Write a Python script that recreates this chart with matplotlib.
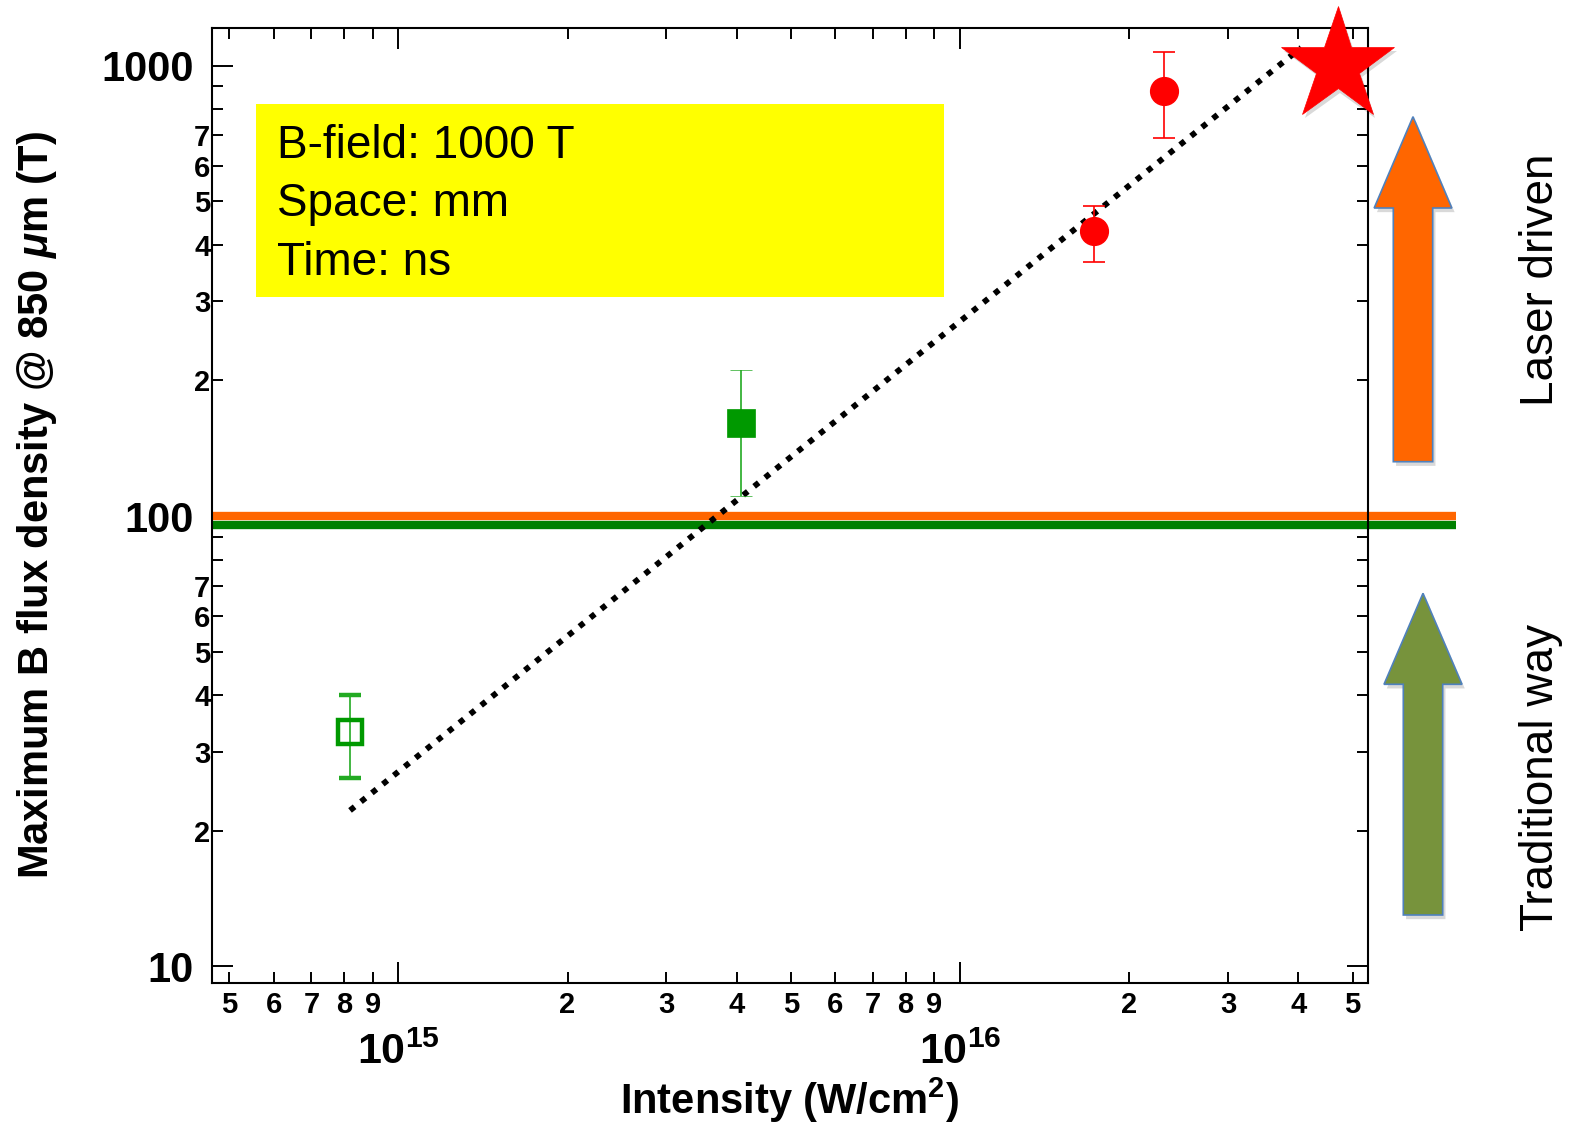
import numpy as np
import matplotlib
matplotlib.use('Agg')
import matplotlib.pyplot as plt
import matplotlib.patches as mpatches
import matplotlib.patheffects as pe
from matplotlib import font_manager

# pick fonts (Helvetica-like)
names = {f.name for f in font_manager.fontManager.ttflist}
sans = 'Liberation Sans' if 'Liberation Sans' in names else 'DejaVu Sans'
narrow = 'Liberation Sans Narrow' if 'Liberation Sans Narrow' in names else sans

plt.rcParams['font.family'] = [sans, 'DejaVu Sans']
plt.rcParams['mathtext.fontset'] = 'custom'
plt.rcParams['mathtext.rm'] = narrow + ':bold'
plt.rcParams['mathtext.it'] = sans + ':bold:italic'
plt.rcParams['mathtext.bf'] = narrow + ':bold'

# data
open_x = [8.2e14]
open_y = [33.2]
open_lo = [26.2]
open_hi = [40.1]

fill_x = [4.08e15]
fill_y = [161]
fill_lo = [111]
fill_hi = [211]

red_x = [1.73e16, 2.31e16]
red_y = [430, 880]
red_lo = [367, 690]
red_hi = [487, 1074]

star_x = [4.7e16]
star_y = [1000]

fit_x = [8.2e14, 4.05e16]
fit_y = [22.2, 1096]

hline_x = [4.65e14, 7.65e16]
laser_level = 100
trad_level = 95.7

xlim = (4.65e14, 5.33e16)
ylim = (9.2, 1212)

x_major = [1e15, 1e16]
x_major_labels = ['$10^{15}$', '$10^{16}$']
x_minor = [5e14, 6e14, 7e14, 8e14, 9e14,
           2e15, 3e15, 4e15, 5e15, 6e15, 7e15, 8e15, 9e15,
           2e16, 3e16, 4e16, 5e16]
x_minor_labels = ['5', '6', '7', '8', '9',
                  '2', '3', '4', '5', '6', '7', '8', '9',
                  '2', '3', '4', '5']
y_major = [10, 100, 1000]
y_major_labels = ['10', '100', '1000']
y_minor = [20, 30, 40, 50, 60, 70, 80, 90,
           200, 300, 400, 500, 600, 700, 800, 900]
y_minor_labels = ['2', '3', '4', '5', '6', '7', '', '',
                  '2', '3', '4', '5', '6', '7', '', '']

box_lines = ['B-field: 1000 T', 'Space: mm', 'Time: ns']

fig = plt.figure(figsize=(15.75, 11.23), dpi=100)
ax = fig.add_axes([0.1344, 0.1249, 0.7343, 0.8502])
ax.set_xscale('log')
ax.set_yscale('log')

# threshold lines
ax.plot(hline_x, [laser_level] * 2, color='#FF6600', lw=6, solid_capstyle='butt', clip_on=False, zorder=2)
ax.plot(hline_x, [trad_level] * 2, color='#008000', lw=6, solid_capstyle='butt', clip_on=False, zorder=2)

# scaling line
ax.plot(fit_x, fit_y, color='black', lw=4.2, linestyle=(0, (1, 1.4)), zorder=3)

# measurements
ax.errorbar(open_x, open_y, yerr=[np.subtract(open_y, open_lo), np.subtract(open_hi, open_y)],
            fmt='s', ms=17, mfc='none', mec='#009900', mew=3.2, ecolor='#22AA22',
            elinewidth=1.2, capsize=8, capthick=1.2, zorder=4)
ax.errorbar(fill_x, fill_y, yerr=[np.subtract(fill_y, fill_lo), np.subtract(fill_hi, fill_y)],
            fmt='s', ms=20, mfc='#009900', mec='#009900', mew=0.5, ecolor='#22AA22',
            elinewidth=1.2, capsize=8, capthick=1.2, zorder=4)
ax.errorbar(red_x, red_y, yerr=[np.subtract(red_y, red_lo), np.subtract(red_hi, red_y)],
            fmt='o', ms=20, mfc='#FF0000', mec='#FF0000', ecolor='#FF0000',
            elinewidth=1.2, capsize=8, capthick=1.2, zorder=4)

soft = [pe.SimplePatchShadow(offset=(2, -3), shadow_rgbFace='k', alpha=0.15), pe.Normal()]
ax.plot(star_x, star_y, marker='*', ms=86, color='#FF0000', mec='#FF0000', mew=0.5,
        linestyle='none', clip_on=False, zorder=10, path_effects=soft)

ax.set_xlim(*xlim)
ax.set_ylim(*ylim)

# ticks
ax.set_xticks(x_major, x_major_labels)
ax.set_xticks(x_minor, x_minor_labels, minor=True)
ax.set_yticks(y_major, y_major_labels)
ax.set_yticks(y_minor, y_minor_labels, minor=True)
ax.tick_params(which='both', direction='in', top=True, right=True, width=1.4)
ax.tick_params(which='major', length=15)
ax.tick_params(which='minor', length=8)
ax.tick_params(axis='x', which='major', labelsize=31, pad=36)
ax.tick_params(axis='x', which='minor', labelsize=21, pad=6)
ax.tick_params(axis='y', which='major', labelsize=30, pad=13)
ax.tick_params(axis='y', which='minor', labelsize=21, pad=1)
for lab in ax.get_xticklabels(minor=True):
    lab.set_family([narrow, sans])
    lab.set_weight('bold')
for lab in ax.get_yticklabels() + ax.get_yticklabels(minor=True):
    lab.set_weight('bold')
for sp in ax.spines.values():
    sp.set_linewidth(1.5)

ax.set_xlabel('Intensity (W/cm$^{2}$)', fontsize=30, fontweight='bold', labelpad=2)
ax.set_ylabel(r'Maximum B flux density @ 850 $\mu$m (T)', fontsize=30, fontweight='bold', labelpad=30)

# yellow info box
ax.add_patch(mpatches.Rectangle((0.0383, 0.7182), 0.5952, 0.2022, transform=ax.transAxes,
                                facecolor='#FFFF00', edgecolor='none', zorder=1))
for i, line in enumerate(box_lines):
    ax.text(0.0562, 0.8638 - i * 0.0612, line, transform=ax.transAxes, fontsize=33,
            va='baseline', ha='left', zorder=5)

# arrows on the right (inches from bottom-left)
up1 = mpatches.FancyArrow(14.13, 6.613, 0, 3.45, width=0.394, head_width=0.777, head_length=0.913,
                          length_includes_head=True, facecolor='#FF6600', edgecolor='#4F81BD', lw=1.2,
                          transform=fig.dpi_scale_trans, path_effects=soft)
up2 = mpatches.FancyArrow(14.23, 2.08, 0, 3.217, width=0.394, head_width=0.78, head_length=0.91,
                          length_includes_head=True, facecolor='#77933C', edgecolor='#4F81BD', lw=1.2,
                          transform=fig.dpi_scale_trans, path_effects=soft)
fig.add_artist(up1)
fig.add_artist(up2)

fig.text(1553 / 1575, 1 - 280 / 1123, 'Laser driven', rotation=90, rotation_mode='anchor',
         ha='center', va='baseline', fontsize=33)
fig.text(1553 / 1575, 1 - 777 / 1123, 'Traditional way', rotation=90, rotation_mode='anchor',
         ha='center', va='baseline', fontsize=33)

fig.savefig('out.png', dpi=100)
